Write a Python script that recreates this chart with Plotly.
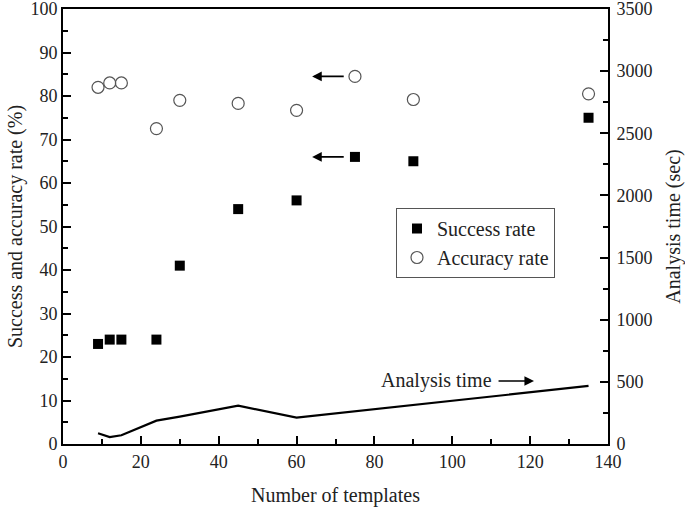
import plotly.graph_objects as go

templates = [9, 12, 15, 24, 30, 45, 60, 75, 90, 135]
success_rate = [23, 24, 24, 24, 41, 54, 56, 66, 65, 75]
accuracy_rate = [82, 83, 83, 72.5, 79, 78.3, 76.7, 84.5, 79.2, 80.5]

time_templates = [9, 12, 15, 24, 30, 45, 60, 135]
analysis_time = [86, 56, 70, 188, 220, 308, 212, 467]

FONT = "Liberation Serif"

fig = go.Figure()
fig.add_trace(go.Scatter(
    x=templates, y=success_rate, mode="markers", name="Success rate",
    marker=dict(symbol="square", size=10, color="black", line=dict(width=0)),
))
fig.add_trace(go.Scatter(
    x=templates, y=accuracy_rate, mode="markers", name="Accuracy rate",
    marker=dict(symbol="circle-open", size=12, color="#555555", line=dict(width=1.2)),
))
fig.add_trace(go.Scatter(
    x=time_templates, y=analysis_time, mode="lines", name="Analysis time",
    line=dict(color="black", width=2.2), yaxis="y2", showlegend=False,
))

axis_common = dict(
    showgrid=False, zeroline=False, showline=True, linecolor="black", linewidth=2,
    ticks="inside", tickcolor="black", tickwidth=2, ticklen=8, automargin=False,
    tickfont=dict(family=FONT, size=18, color="#222"), ticklabeloverflow="allow",
)

fig.update_layout(
    template="none",
    width=685, height=510,
    margin=dict(l=63, r=77, t=9, b=66),
    paper_bgcolor="white", plot_bgcolor="white",
    font=dict(family=FONT, color="#222"),
    xaxis=dict(**axis_common, range=[0, 140], dtick=20, mirror=True,
               minor=dict(ticks="inside", ticklen=5, dtick=10, tickcolor="black", tickwidth=2),
               title=dict(text="Number of templates", font=dict(family=FONT, size=20), standoff=17)),
    yaxis=dict(**axis_common, range=[0, 100], dtick=10,
               minor=dict(ticks="inside", ticklen=5, dtick=5, tickcolor="black", tickwidth=2),
               title=dict(text="Success and accuracy rate (%)", font=dict(family=FONT, size=20), standoff=2)),
    yaxis2=dict(**axis_common, range=[0, 3500], dtick=500, overlaying="y", side="right",
                ticklabelstandoff=3,
                minor=dict(ticks="inside", ticklen=5, dtick=250, tickcolor="black", tickwidth=2),
                title=dict(text="Analysis time (sec)", font=dict(family=FONT, size=20), standoff=15)),
    legend=dict(x=0.611, y=0.5425, xanchor="left", yanchor="top",
                bordercolor="#555", borderwidth=1, bgcolor="white",
                font=dict(family=FONT, size=20, color="#222"),
                tracegroupgap=0, itemwidth=30),
    showlegend=True,
)

# Arrows pointing to the left axis
for yv in [84.5, 66]:
    fig.add_annotation(x=64, y=yv, ax=72.5, ay=yv, xref="x", yref="y", axref="x", ayref="y",
                       text="", showarrow=True, arrowhead=2, arrowsize=1.2, arrowwidth=1.6,
                       arrowcolor="black")

# Arrow pointing to the right axis
fig.add_annotation(x=121, y=507, ax=111.5, ay=507, xref="x", yref="y2", axref="x", ayref="y2",
                   text="", showarrow=True, arrowhead=2, arrowsize=1.2, arrowwidth=1.6,
                   arrowcolor="black")
fig.add_annotation(x=110.8, y=507, xref="x", yref="y2", text="Analysis time", showarrow=False,
                   xanchor="right", yanchor="middle", font=dict(family=FONT, size=20, color="#222"))

fig.write_html("out.html", config={"displayModeBar": False},
               post_script="document.body.style.margin='0';document.body.style.padding='0';")
